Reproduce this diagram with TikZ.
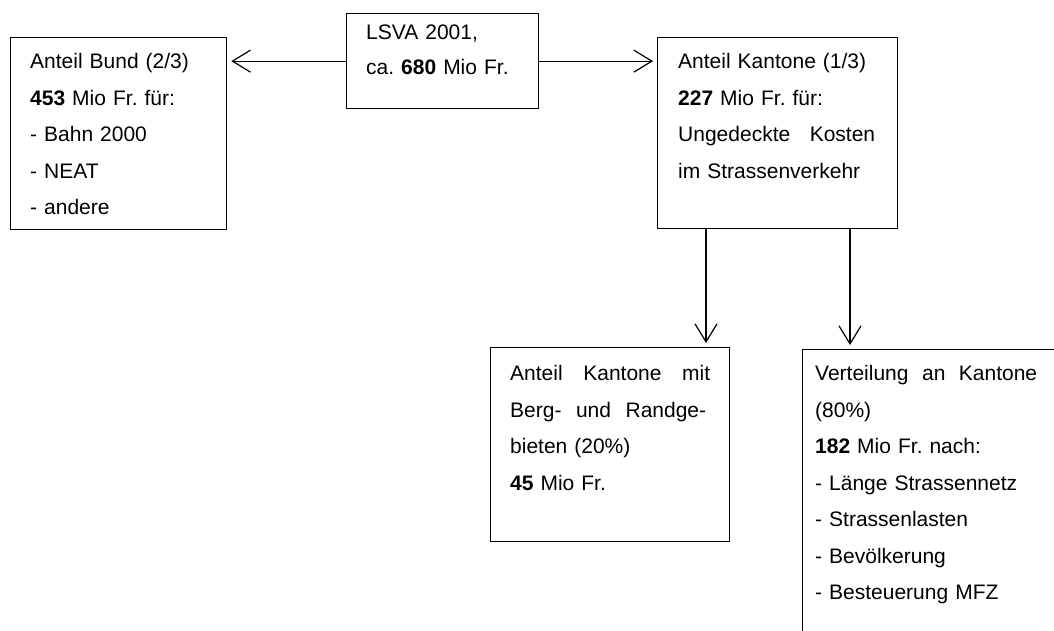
\documentclass[tikz,border=0pt]{standalone}
\usepackage{fontspec}
\setmainfont{Liberation Sans}
\usetikzlibrary{arrows.meta}
\frenchspacing
\newcommand{\jline}[2]{\leavevmode\hbox to #1{#2}}
\begin{document}
\begin{tikzpicture}[x=1pt,y=-1pt,
  box/.style={draw, line width=1.3pt, rectangle, inner sep=0pt, anchor=north west},
  txt/.style={anchor=base west, inner sep=0pt, align=left, font=\fontsize{21}{36.5}\selectfont},
  arr/.style={line width=1.2pt, -{Straight Barb[length=18pt,width=22pt,line width=1.2pt]}, shorten >=4pt}]
\useasboundingbox (0,0) rectangle (1054,630);
\clip (0,0) rectangle (1054,630);
\fill[white] (0,0) rectangle (1054,630);
% boxes
\node[box, minimum width=216.5pt, minimum height=192pt] (bund) at (9.5,37) {};
\node[box, minimum width=192pt, minimum height=95pt] (lsva) at (346,13) {};
\node[box, minimum width=240pt, minimum height=191pt] (kant) at (657,37) {};
\node[box, minimum width=239pt, minimum height=194pt] (mit) at (490,347) {};
\node[box, minimum width=300pt, minimum height=320pt] (vert) at (802,349) {};
% texts
\node[txt, text width=200pt] (tbund) at (30,68.5) {Anteil Bund (2/3)\\\textbf{453} Mio Fr. für:\\- Bahn 2000\\- NEAT\\- andere};
\node[txt, text width=170pt, font=\fontsize{21}{35}\selectfont] (tlsva) at (366,39) {LSVA 2001,\\ca. \textbf{680} Mio Fr.};
\node[txt, text width=200pt] (tkant) at (678,68.5) {Anteil Kantone (1/3)\\\textbf{227} Mio Fr. für:\\\jline{197pt}{Ungedeckte\hfill Kosten}\\im Strassenverkehr};
\node[txt, text width=205pt] (tmit) at (510,380.5) {\jline{200pt}{Anteil\hfill Kantone\hfill mit}\\\jline{196pt}{Berg-\hfill und\hfill Randge-}\\bieten (20\%)\\\textbf{45} Mio Fr.};
\node[txt, text width=225pt] (tvert) at (815,380.5) {\jline{222pt}{Verteilung\hfill an\hfill Kantone}\\(80\%)\\\textbf{182} Mio Fr. nach:\\- Länge Strassennetz\\- Strassenlasten\\- Bevölkerung\\- Besteuerung MFZ};
% connectors
\draw[arr] (lsva.west) -- (lsva.west -| bund.east);
\draw[arr] (lsva.east) -- (lsva.east -| kant.west);
\coordinate (d1) at ([xshift=49pt]kant.south west);
\coordinate (d2) at ([xshift=193pt]kant.south west);
\draw[arr] (d1) -- (d1 |- mit.north);
\draw[arr] (d2) -- (d2 |- vert.north);
\end{tikzpicture}
\end{document}
